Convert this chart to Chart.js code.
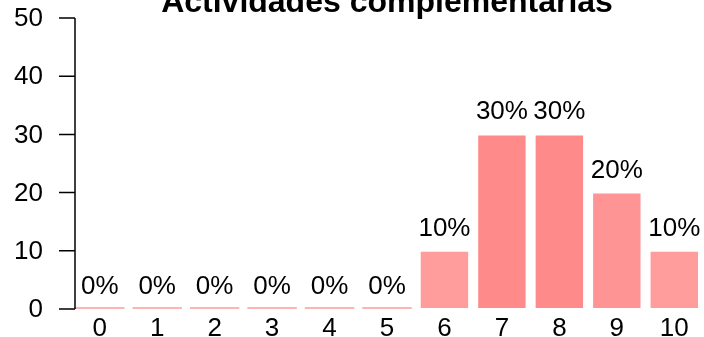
<!DOCTYPE html>
<html>
<head>
<meta charset="utf-8">
<script src="https://cdn.jsdelivr.net/npm/chart.js@4.4.1/dist/chart.umd.min.js"></script>
<style>
  html, body { margin: 0; padding: 0; background: #fff; overflow: hidden; }
  #chart { display: block; width: 704px; height: 337px; }
</style>
</head>
<body>
<canvas id="chart" width="704" height="337"></canvas>
<script>
const categories = ['0', '1', '2', '3', '4', '5', '6', '7', '8', '9', '10'];
const percentages = [0, 0, 0, 0, 0, 0, 10, 30, 30, 20, 10];
const yTicks = [0, 10, 20, 30, 40, 50];
const chartTitle = 'Actividades complementarias';

const barColors = [
  '#ffb3b3', '#ffb3b3', '#ffb3b3', '#ffb3b3', '#ffb3b3', '#ffb3b3',
  '#ff9c9c', '#ff8a8a', '#ff8a8a', '#ff9494', '#ff9c9c'
];

const FONT = '"Liberation Sans", Arial, sans-serif';

// axis line, tick labels, value labels and title are drawn by hand
const extras = {
  id: 'extras',
  afterDatasetsDraw(chart) {
    const ctx = chart.ctx;
    const x = chart.scales.x;
    const y = chart.scales.y;
    const area = chart.chartArea;
    const axisX = area.left + 4;

    ctx.save();
    ctx.strokeStyle = '#000';
    ctx.lineWidth = 1.5;
    ctx.beginPath();
    ctx.moveTo(axisX, y.getPixelForValue(yTicks[0]));
    ctx.lineTo(axisX, y.getPixelForValue(yTicks[yTicks.length - 1]));
    yTicks.forEach(t => {
      const py = y.getPixelForValue(t);
      ctx.moveTo(axisX - 16, py);
      ctx.lineTo(axisX, py);
    });
    ctx.stroke();

    ctx.fillStyle = '#000';
    ctx.font = '26px ' + FONT;

    // y tick labels
    ctx.textAlign = 'right';
    ctx.textBaseline = 'middle';
    yTicks.forEach(t => {
      ctx.fillText(String(t), axisX - 32, y.getPixelForValue(t) + 1);
    });

    // category labels
    ctx.textAlign = 'center';
    ctx.textBaseline = 'alphabetic';
    categories.forEach((c, i) => {
      ctx.fillText(c, x.getPixelForValue(i), area.bottom + 27);
    });

    // percentage above each bar
    const meta = chart.getDatasetMeta(0);
    meta.data.forEach((bar, i) => {
      const top = y.getPixelForValue(percentages[i]);
      ctx.fillText(percentages[i] + '%', bar.x, top - 15);
    });

    ctx.font = 'bold 32px ' + FONT;
    ctx.fillText(chartTitle, (area.left + area.right) / 2, 12);
    ctx.restore();
  }
};

new Chart(document.getElementById('chart'), {
  type: 'bar',
  data: {
    labels: categories,
    datasets: [{
      data: percentages,
      backgroundColor: barColors,
      borderColor: 'rgba(255,255,255,0.45)',
      // empty categories show only as a thin line on the baseline
      borderWidth: c => (c.raw === 0 ? 0 : 1),
      borderSkipped: false,
      minBarLength: 2,
      barPercentage: 0.86,
      categoryPercentage: 1
    }]
  },
  options: {
    responsive: false,
    animation: false,
    layout: { padding: { top: 18, right: 1, left: 0, bottom: 0 } },
    plugins: {
      legend: { display: false },
      tooltip: { enabled: false },
      title: { display: false }
    },
    scales: {
      x: {
        grid: { display: false },
        border: { display: false },
        ticks: { display: false },
        afterFit(scale) { scale.height = 28; }
      },
      y: {
        min: 0,
        max: 50,
        grid: { display: false },
        border: { display: false },
        ticks: { display: false },
        afterFit(scale) { scale.width = 71; }
      }
    }
  },
  plugins: [extras]
});
</script>
</body>
</html>
